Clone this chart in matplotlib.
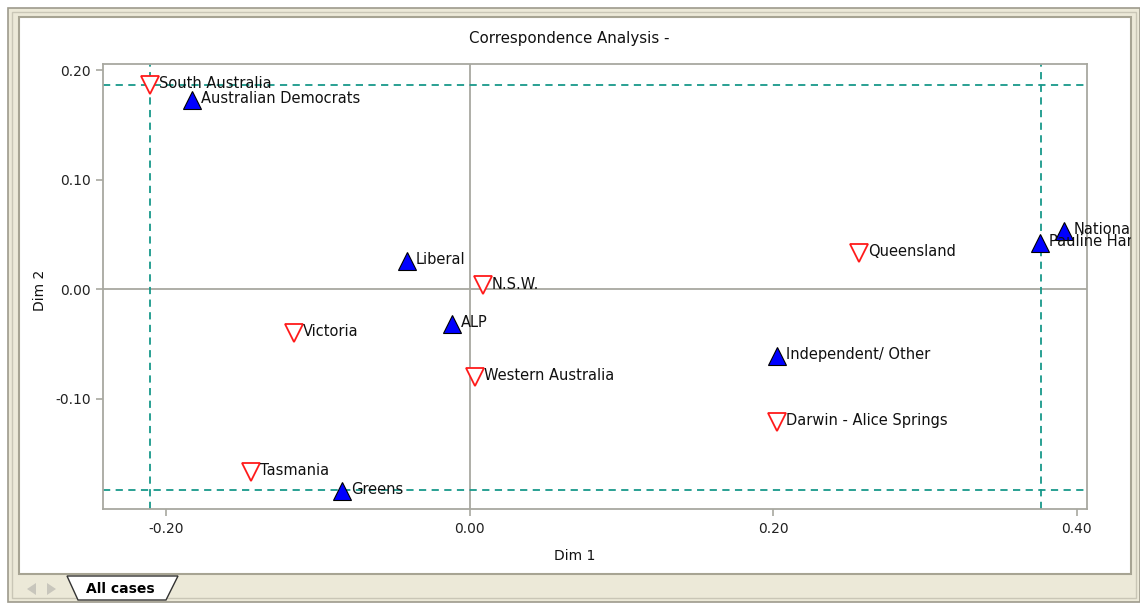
# -*- coding: utf-8 -*-
"""
Correspondence analysis map - regions vs parties
"""

import matplotlib
matplotlib.use('Agg')
import matplotlib.pyplot as plt
from matplotlib.patches import Rectangle, Polygon
from matplotlib.transforms import Bbox, TransformedBbox
import numpy as np

plt.rcParams.update({'font.family': 'DejaVu Sans'})
plt.rcParams.update({'font.size': 10})

#%% data
regions = ['South Australia', 'N.S.W.', 'Victoria', 'Western Australia',
           'Tasmania', 'Queensland', 'Darwin - Alice Springs']
region_dim1 = [-0.2107, 0.0086, -0.1162, 0.0033, -0.1443, 0.2565, 0.2024]
region_dim2 = [0.1867, 0.0036, -0.0398, -0.0795, -0.1666, 0.0333, -0.1210]

parties = ['Australian Democrats', 'Liberal', 'ALP', 'Greens',
           'Independent/ Other', 'National', 'Pauline Hanson']
party_dim1 = [-0.1830, -0.0415, -0.0117, -0.0843, 0.2026, 0.3918, 0.3761]
party_dim2 = [0.1730, 0.0258, -0.0317, -0.1836, -0.0604, 0.0532, 0.0427]

# dashed reference lines
ref_x = [-0.2105, 0.3765]
ref_y = [0.1866, -0.1830]

x_ticks = [-0.20, 0.00, 0.20, 0.40]
y_ticks = [-0.10, 0.00, 0.10, 0.20]

#%% figure and window frame
W, H = 1140, 604
fig = plt.figure(figsize=(W / 100, H / 100), dpi=100)
fig.patch.set_facecolor('white')


def fx(x):
    return x / W


def fy(y):
    return 1 - y / H


def rect(x0, y0, x1, y1, **kw):
    fig.add_artist(Rectangle((fx(x0), fy(y1)), fx(x1) - fx(x0), fy(y0) - fy(y1),
                             transform=fig.transFigure, zorder=-10, **kw))


beige = '#ece9d8'
rect(8, 8, 1140, 602, facecolor=beige, edgecolor='#9d9a8c', lw=1.2)
rect(12, 12, 1136, 598, facecolor='none', edgecolor='#c9c6b6', lw=1.0)
rect(19, 17, 1131, 574, facecolor='white', edgecolor='#a7a493', lw=1.5)

# tab bar
tab = Polygon([(fx(67), fy(576)), (fx(178), fy(576)), (fx(166), fy(600)), (fx(78), fy(600))],
              closed=True, transform=fig.transFigure, facecolor='white',
              edgecolor='#333333', lw=1.0)
fig.add_artist(tab)
fig.text(fx(120), fy(589), 'All cases', ha='center', va='center',
         fontsize=10, fontweight='bold', color='black')
for pts in ([(27, 589), (36, 583), (36, 595)], [(56, 589), (47, 583), (47, 595)]):
    fig.add_artist(Polygon([(fx(a), fy(b)) for a, b in pts], closed=True,
                           transform=fig.transFigure, facecolor='#c8c6bc',
                           edgecolor='none'))

#%% axes
ax = fig.add_axes([fx(103), fy(509.3), fx(1086.7) - fx(103), fy(64) - fy(509.3)])
ax.set_zorder(2)
ax.set_xlim(-0.2418, 0.4066)
ax.set_ylim(-0.2006, 0.2055)

for sp in ax.spines.values():
    sp.set_color('#a8a8a0')
    sp.set_linewidth(1.3)

ax.set_xticks(x_ticks)
ax.set_yticks(y_ticks)
ax.set_xticklabels(['%.2f' % v for v in x_ticks])
ax.set_yticklabels(['%.2f' % v for v in y_ticks])
ax.tick_params(direction='out', length=5, width=1.2, color='#a8a8a0',
               labelcolor='#222222', labelsize=10, pad=4)

ax.axhline(0, color='#a8a8a0', lw=1.3, zorder=1)
ax.axvline(0, color='#a8a8a0', lw=1.3, zorder=1)

teal = '#18988a'
for v in ref_x:
    ax.axvline(v, color=teal, lw=1.3, ls=(0, (4, 3)), zorder=2)
for v in ref_y:
    ax.axhline(v, color=teal, lw=1.3, ls=(0, (4, 3)), zorder=2)

ax.plot(region_dim1, region_dim2, ls='none', marker='v', ms=13,
        mfc='white', mec='#ff1a1a', mew=1.3, zorder=3)
ax.plot(party_dim1, party_dim2, ls='none', marker='^', ms=13,
        mfc='#0000ff', mec='black', mew=0.8, zorder=4)

clip = TransformedBbox(Bbox([[fx(19), fy(574)], [fx(1131), fy(17)]]), fig.transFigure)
for names, xs, ys in ((regions, region_dim1, region_dim2), (parties, party_dim1, party_dim2)):
    for n, x, y in zip(names, xs, ys):
        t = ax.annotate(n, (x, y), xytext=(6.5, 1), textcoords='offset points',
                        ha='left', va='center', fontsize=10.5, color='#111111',
                        zorder=5, annotation_clip=False)
        t.set_clip_box(clip)
        t.set_clip_on(True)

#%% titles
fig.text(fx(569), fy(39), 'Correspondence Analysis -', ha='center', va='center',
         fontsize=10.8, color='#111111')
fig.text(fx(575), fy(556), 'Dim 1', ha='center', va='center', fontsize=10, color='#111111')
fig.text(fx(40), fy(290), 'Dim 2', ha='center', va='center', rotation=90,
         fontsize=10, color='#111111')

plt.savefig('out.png', dpi=100)
